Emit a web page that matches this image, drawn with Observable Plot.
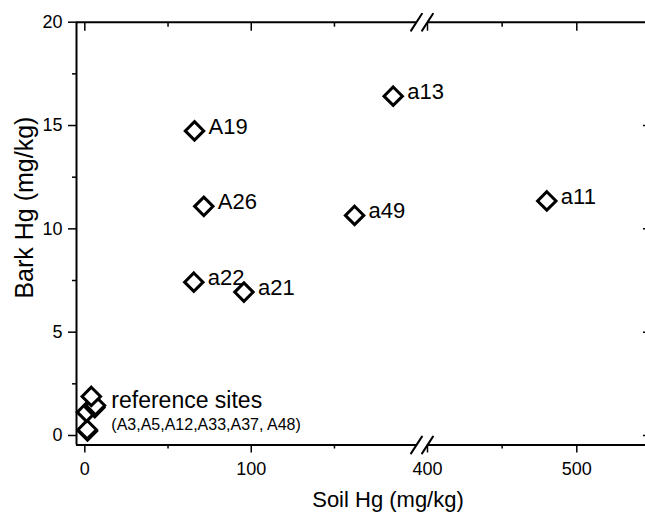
<!DOCTYPE html>
<html><head><meta charset="utf-8">
<script src="https://cdn.jsdelivr.net/npm/d3@7"></script>
<script src="https://cdn.jsdelivr.net/npm/@observablehq/plot@0.6"></script>
<style>
html,body{margin:0;padding:0;background:#fff;}
#chart svg{display:block;}
</style></head><body><div id="chart"></div>
<script>
// Labelled sites
const siteLabels = ["A19", "A26", "a22", "a21", "a13", "a49", "a11"];
const soilHg = [65.9, 71.5, 65.5, 95.6, 185.3, 162.1, 479.9];
const barkHg = [14.74, 11.09, 7.42, 6.94, 16.42, 10.65, 11.35];
// Reference sites (A3, A5, A12, A33, A37, A48)
const refSoilHg = [3.9, 6.4, 6.0, 1.0, 1.4, 1.6];
const refBarkHg = [1.89, 1.45, 1.35, 1.13, 0.28, 0.22];
const refNote = ["reference sites", "(A3,A5,A12,A33,A37, A48)"];
// Axes
const xDomain = [-5, 199.3, 400, 546];   // broken axis: 0–200 // 400–546
const yDomain = [-0.46, 20];
const xMajorTicks = [0, 100, 400, 500];
const xMinorTicks = [50, 150, 450];
const yMajorTicks = [0, 5, 10, 15, 20];
const yMinorTicks = [2.5, 7.5, 12.5, 17.5];
const xTitle = "Soil Hg (mg/kg)";
const yTitle = "Bark Hg (mg/kg)";

const breaks = [];
for (const bx of [xDomain[1], xDomain[2]]) for (const by of yDomain) breaks.push({x: bx, y: by});
const slash = {draw(context, l) { context.moveTo(0, 0); context.lineTo(0, -l); }};
const none = () => "";
const font = "'Liberation Sans', Arimo, Arial, sans-serif";

const chart = Plot.plot({
  width: 645, height: 516,
  marginLeft: 76, marginRight: 0, marginTop: 21.7, marginBottom: 71.5,
  style: {fontFamily: font, background: "white", color: "black"},
  x: {type: "linear", domain: xDomain, range: [76, 416, 427, 645], axis: null},
  y: {domain: yDomain, axis: null},
  marks: [
    Plot.ruleX([xDomain[0]], {y1: yDomain[0], y2: yDomain[1], strokeWidth: 2}),
    Plot.ruleY([yDomain[1], yDomain[0]], {x1: xDomain[0], x2: xDomain[1], strokeWidth: 2}),
    Plot.ruleY([yDomain[1], yDomain[0]], {x1: xDomain[2], x2: xDomain[3], strokeWidth: 2}),
    Plot.vector(breaks, {x: "x", y: "y", length: 20, rotate: 33, anchor: "middle", shape: slash, strokeWidth: 2}),
    Plot.axisX(xMajorTicks, {anchor: "bottom", tickSize: 8, tickPadding: 9, fontSize: 18, strokeWidth: 1.5, label: null}),
    Plot.axisX(xMinorTicks, {anchor: "bottom", tickSize: 4, tickFormat: none, strokeWidth: 1.5, label: null}),
    Plot.axisX(xMajorTicks, {anchor: "top", tickSize: -8, tickFormat: none, strokeWidth: 1.5, label: null}),
    Plot.axisX(xMinorTicks, {anchor: "top", tickSize: -4, tickFormat: none, strokeWidth: 1.5, label: null}),
    Plot.axisY(yMajorTicks, {anchor: "left", tickSize: 8, tickPadding: 6, fontSize: 18, strokeWidth: 1.5, label: null}),
    Plot.axisY(yMinorTicks, {anchor: "left", tickSize: 4, tickFormat: none, strokeWidth: 1.5, label: null}),
    Plot.axisY(yMajorTicks.slice(0, 4), {anchor: "right", tickSize: -3, tickFormat: none, strokeWidth: 1.5, label: null}),
    Plot.text([xTitle], {frameAnchor: "bottom", textAnchor: "middle", dx: 27, dy: 54.5, fontSize: 22, lineAnchor: "middle"}),
    Plot.text([yTitle], {frameAnchor: "left", textAnchor: "middle", rotate: -90, dx: -52, dy: -26, fontSize: 25, lineAnchor: "middle"}),
    Plot.text(siteLabels, {x: (d, i) => soilHg[i], y: (d, i) => barkHg[i], text: d => d, dx: 14, dy: -4, textAnchor: "start", fontSize: 22, lineAnchor: "middle"}),
    Plot.text([refNote[0]], {x: () => refSoilHg[0], y: () => refBarkHg[0], text: d => d, dx: 20, dy: 4.5, textAnchor: "start", fontSize: 23, lineAnchor: "middle"}),
    Plot.text([refNote[1]], {x: () => refSoilHg[0], y: () => refBarkHg[0], text: d => d, dx: 20, dy: 28, textAnchor: "start", fontSize: 16, lineAnchor: "middle"}),
    Plot.dot(refSoilHg.map((v, i) => i).reverse(), {x: i => refSoilHg[i], y: i => refBarkHg[i], symbol: "diamond2", r: 8.3, stroke: "black", strokeWidth: 3, fill: "white"}),
    Plot.dot(siteLabels, {x: (d, i) => soilHg[i], y: (d, i) => barkHg[i], symbol: "diamond2", r: 8.3, stroke: "black", strokeWidth: 3, fill: "white"})
  ]
});
document.getElementById("chart").appendChild(chart);
</script></body></html>
